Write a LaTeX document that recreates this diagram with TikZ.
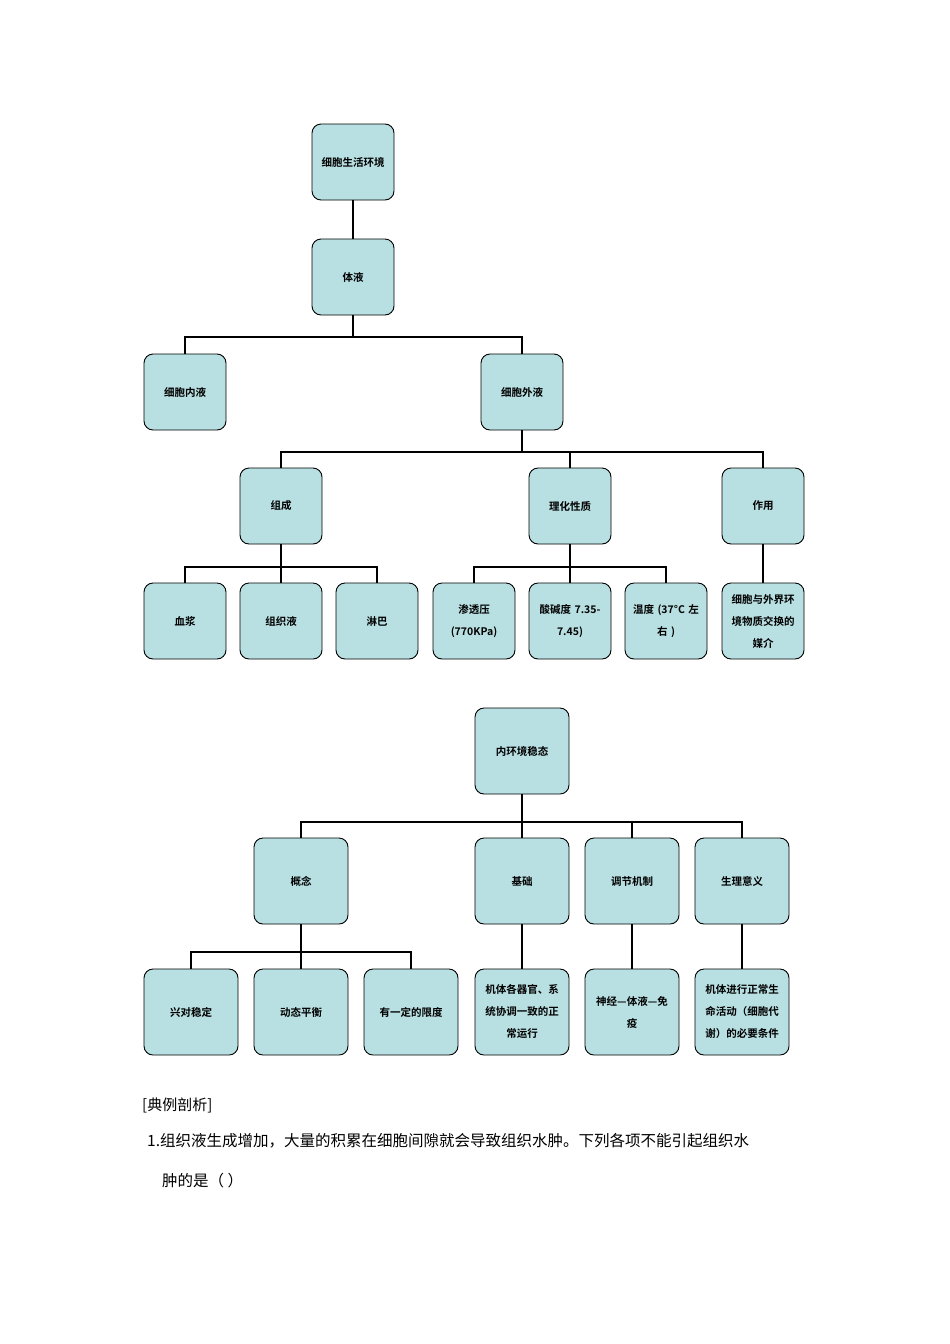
\documentclass[tikz,border=0pt]{standalone}
\usepackage{fontspec}
\setmainfont{Noto Sans CJK SC}
\newfontfamily\cjkb{Noto Sans CJK SC Bold}
\begin{document}
\begin{tikzpicture}[x=1pt,y=-1pt,
  box/.style={draw=black,line width=0.9pt,fill=boxc,rounded corners=9pt,align=center,font=\cjkb\fontsize{10.5}{22}\selectfont,inner sep=2pt},
  a/.style={box,minimum width=82pt,minimum height=76pt,text width=74pt},
  b/.style={box,minimum width=94pt,minimum height=86pt,text width=88pt},
  ln/.style={line width=2.6pt}]
\definecolor{boxc}{HTML}{B8DFE1}
\useasboundingbox (0,0) rectangle (950,1344);
% tree 1
\node[a] (env) at (353,162) {细胞生活环境};
\node[a] (ty) at (353,277) {体液};
\node[a] (nei) at (185,392) {细胞内液};
\node[a] (wai) at (522,392) {细胞外液};
\node[a] (zc) at (281,506) {组成};
\node[a] (lh) at (570,506) {理化性质};
\node[a] (zy) at (763,506) {作用};
\node[a] (xj) at (185,621) {血浆};
\node[a] (zzy) at (281,621) {组织液};
\node[a] (lb) at (377,621) {淋巴};
\node[a] (st) at (474,621) {渗透压\\(770KPa)};
\node[a] (sj) at (570,621) {酸碱度 7.35-\\7.45)};
\node[a] (wd) at (666,621) {温度 (37°C 左\\右 )};
\node[a] (mj) at (763,621) {细胞与外界环\\境物质交换的\\媒介};
\draw[ln] (env) -- (ty);
\draw[ln] (ty.south) |- (nei.north |- 0,337) -- (nei.north);
\draw[ln] (ty.south) -- (353,337) -| (wai.north);
\draw[ln] (wai.south) -- (522,452) -| (zc.north);
\draw[ln] (wai.south) -- (522,452) -| (zy.north);
\draw[ln] (522,452) -| (lh.north);
\draw[ln] (zc.south) -- (281,567) -| (xj.north);
\draw[ln] (281,567) -| (lb.north);
\draw[ln] (zc.south) -- (zzy.north);
\draw[ln] (lh.south) -- (570,567) -| (st.north);
\draw[ln] (570,567) -| (wd.north);
\draw[ln] (lh.south) -- (sj.north);
\draw[ln] (zy) -- (mj);
% tree 2
\node[b] (wt) at (522,751) {内环境稳态};
\node[b] (gn) at (301,881) {概念};
\node[b] (jc) at (522,881) {基础};
\node[b] (tj) at (632,881) {调节机制};
\node[b] (sl) at (742,881) {生理意义};
\node[b] (xd) at (191,1012) {兴对稳定};
\node[b] (dt) at (301,1012) {动态平衡};
\node[b] (yd) at (411,1012) {有一定的限度};
\node[b] (jt) at (522,1012) {机体各器官、系\\统协调一致的正\\常运行};
\node[b] (sj2) at (632,1012) {神经—体液—免\\疫};
\node[b] (jx) at (742,1012) {机体进行正常生\\命活动（细胞代\\谢）的必要条件};
\draw[ln] (wt.south) -- (522,822) -| (gn.north);
\draw[ln] (522,822) -| (sl.north);
\draw[ln] (522,822) -- (jc.north);
\draw[ln] (tj.north) -- (632,822);
\draw[ln] (gn.south) -- (301,952) -| (xd.north);
\draw[ln] (301,952) -| (yd.north);
\draw[ln] (301,952) -- (dt.north);
\draw[ln] (jc) -- (jt);
\draw[ln] (tj) -- (sj2);
\draw[ln] (sl) -- (jx);
% text
\node[anchor=west,font=\fontsize{15}{18}\selectfont,inner sep=0] (t1) at (142,1105) {[典例剖析]};
\node[anchor=west,font=\fontsize{15.5}{18}\selectfont,inner sep=0] (t2) at (147,1141) {1.组织液生成增加，大量的积累在细胞间隙就会导致组织水肿。下列各项不能引起组织水};
\node[anchor=west,font=\fontsize{15.5}{18}\selectfont,inner sep=0] (t3) at (162,1181) {肿的是（ ）};
\end{tikzpicture}
\end{document}
